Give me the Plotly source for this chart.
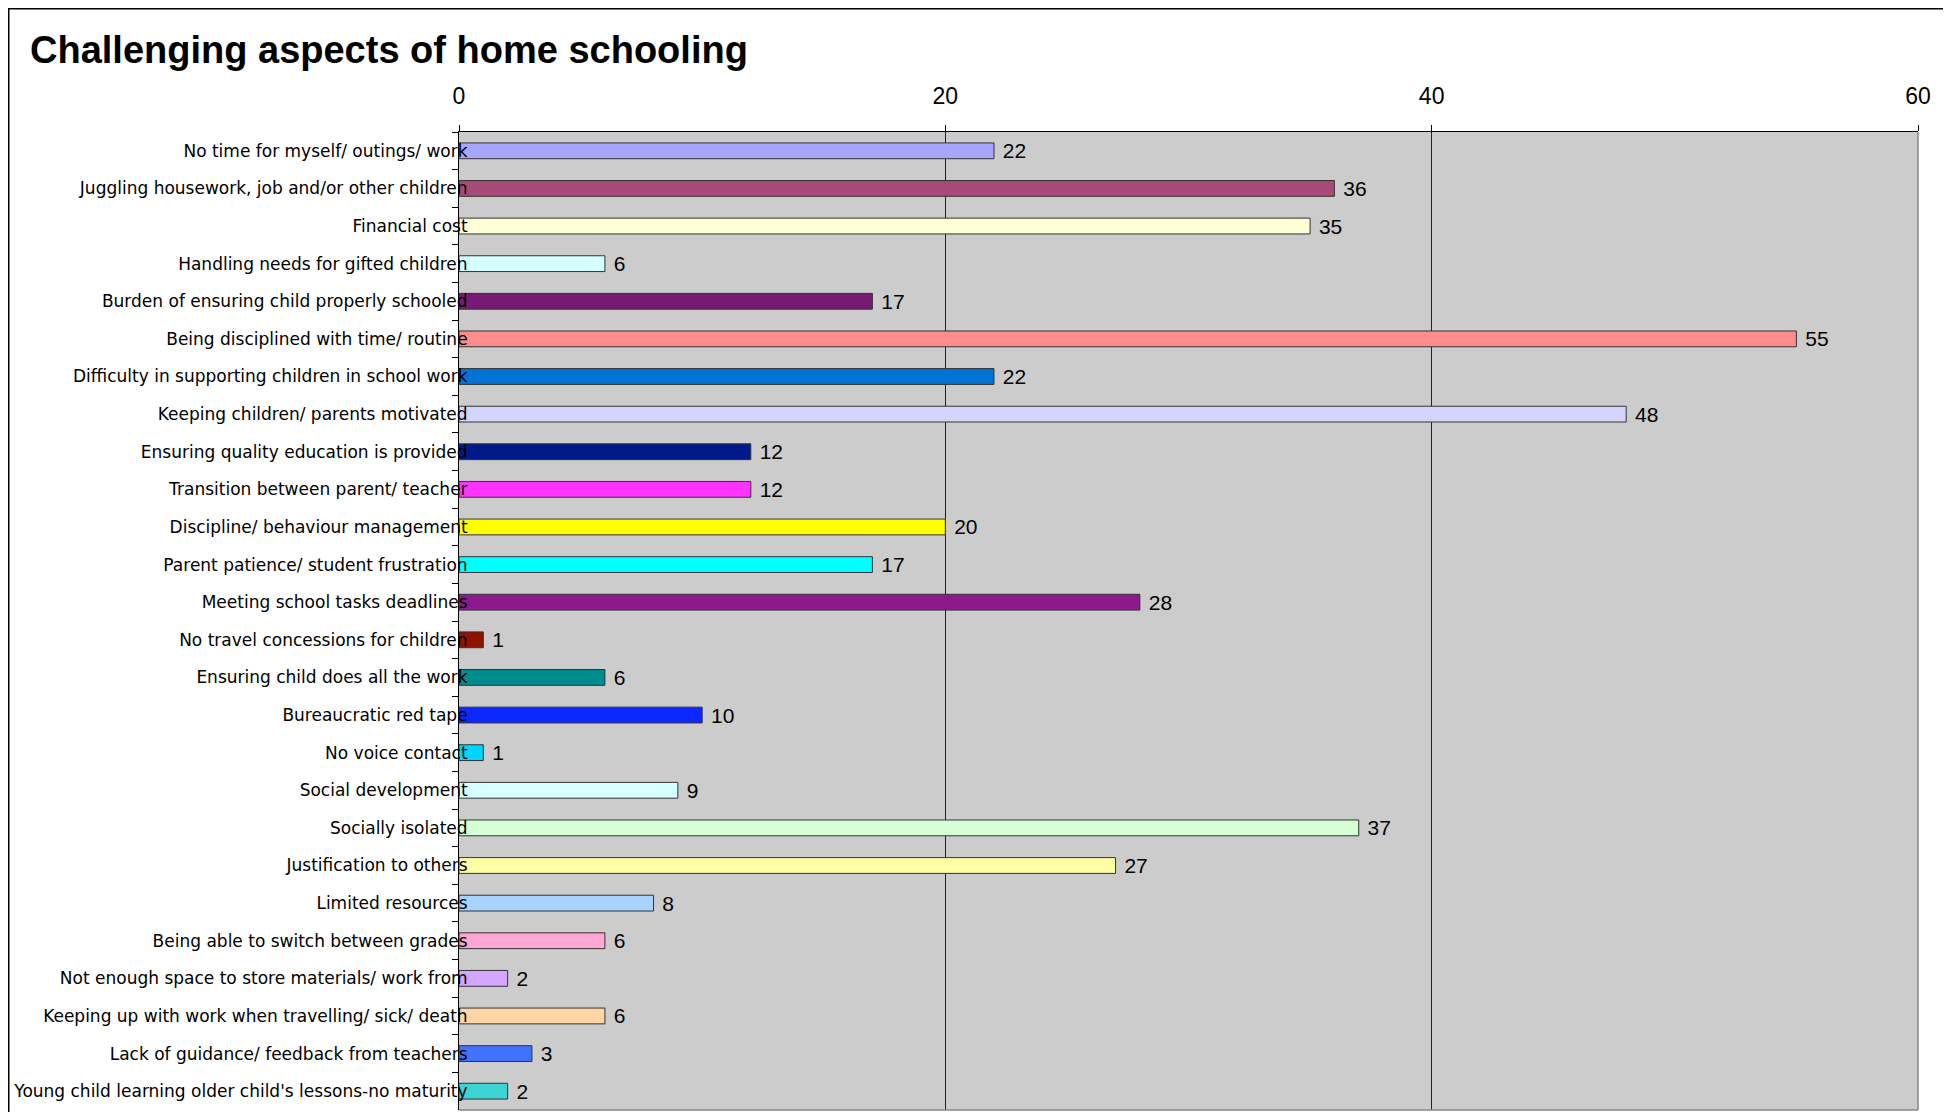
import plotly.graph_objects as go

categories = [
    "No time for myself/ outings/ work",
    "Juggling housework, job and/or other children",
    "Financial cost",
    "Handling needs for gifted children",
    "Burden of ensuring child properly schooled",
    "Being disciplined with time/ routine",
    "Difficulty in supporting children in school work",
    "Keeping children/ parents motivated",
    "Ensuring quality education is provided",
    "Transition between parent/ teacher",
    "Discipline/ behaviour management",
    "Parent patience/ student frustration",
    "Meeting school tasks deadlines",
    "No travel concessions for children",
    "Ensuring child does all the work",
    "Bureaucratic red tape",
    "No voice contact",
    "Social development",
    "Socially isolated",
    "Justification to others",
    "Limited resources",
    "Being able to switch between grades",
    "Not enough space to store materials/ work from",
    "Keeping up with work when travelling/ sick/ death",
    "Lack of guidance/ feedback from teachers",
    "Young child learning older child's lessons-no maturity",
]

values = [22, 36, 35, 6, 17, 55, 22, 48, 12, 12, 20, 17, 28, 1, 6, 10, 1, 9, 37, 27, 8, 6, 2, 6, 3, 2]

colors = [
    "#A6A6FF", "#A84A75", "#FFFFD6", "#D6FFFF", "#771A73", "#FF8C8C",
    "#0073D4", "#D4D4FF", "#001A8C", "#FF33FF", "#FFFF00", "#00FFFF",
    "#8C1A8C", "#8C1400", "#008C8C", "#0A28FF", "#00D4FF", "#D6FFFF",
    "#D6FFD6", "#FFFFA6", "#A6D4FF", "#FFA6D4", "#D4A6FF", "#FFD4A6",
    "#4073FF", "#3DD4D4",
]

x_ticks = [0, 20, 40, 60]

# the page body adds an 8px offset; figure coordinates = page coordinates - 8
OFF = 8
W, H = 1943, 1104
L = 459 - OFF
T = 132 - OFF
R = W - (1918 - OFF)
B = H - (1110 - OFF)
PW = W - L - R
PH = H - T - B


def px_x(p):
    return (p - L) / PW


def px_y(p):
    return (H - B - p) / PH


fig = go.Figure()
fig.add_trace(go.Bar(
    x=values,
    y=categories,
    orientation="h",
    width=0.42,
    marker=dict(color=colors, line=dict(color="#333333", width=1)),
    texttemplate="\u00a0%{x}",
    textposition="outside",
    constraintext="none",
    cliponaxis=False,
    textfont=dict(family="Liberation Sans, Arial, sans-serif", size=21, color="black"),
    hoverinfo="skip",
))

fig.update_layout(
    width=W,
    height=H,
    margin=dict(l=L, r=R, t=T, b=B),
    paper_bgcolor="white",
    plot_bgcolor="#CCCCCC",
    showlegend=False,
    title=dict(
        text="<b>Challenging aspects of home schooling</b>",
        font=dict(family="Liberation Sans, Arial, sans-serif", size=38, color="black"),
        x=22 / W, xref="container", xanchor="left",
        y=1 - 42 / H, yref="container", yanchor="middle",
    ),
    xaxis=dict(
        side="top",
        range=[0, 60],
        tickvals=x_ticks,
        ticktext=[str(v) for v in x_ticks],
        ticks="outside",
        ticklen=6,
        tickcolor="black",
        ticklabelstandoff=12,
        showgrid=True,
        gridcolor="#222222",
        gridwidth=1,
        zeroline=False,
        showline=True,
        linecolor="black",
        linewidth=1,
        tickfont=dict(family="Liberation Sans, Arial, sans-serif", size=23, color="black"),
        fixedrange=True,
    ),
    yaxis=dict(
        autorange="reversed",
        type="category",
        tickson="boundaries",
        ticks="outside",
        ticklen=6,
        tickcolor="black",
        showgrid=False,
        showline=True,
        linecolor="black",
        linewidth=1,
        ticklabelstandoff=-13,
        tickfont=dict(family="DejaVu Sans, sans-serif", size=17, color="black"),
        fixedrange=True,
    ),
    shapes=[
        # plot area right and bottom border (gray)
        dict(type="line", xref="paper", yref="paper", x0=1, x1=1, y0=0, y1=1,
             line=dict(color="#888888", width=1.5), layer="above"),
        dict(type="line", xref="paper", yref="paper", x0=0, x1=1, y0=0, y1=0,
             line=dict(color="#888888", width=1.5), layer="above"),
        # outer chart border
        dict(type="rect", xref="paper", yref="paper",
             x0=px_x(0.75), x1=px_x(W - 0.75), y0=px_y(H + 20), y1=px_y(0.75),
             line=dict(color="black", width=1.5), fillcolor="rgba(0,0,0,0)", layer="above"),
    ],
)

fig.write_html("out.html")
